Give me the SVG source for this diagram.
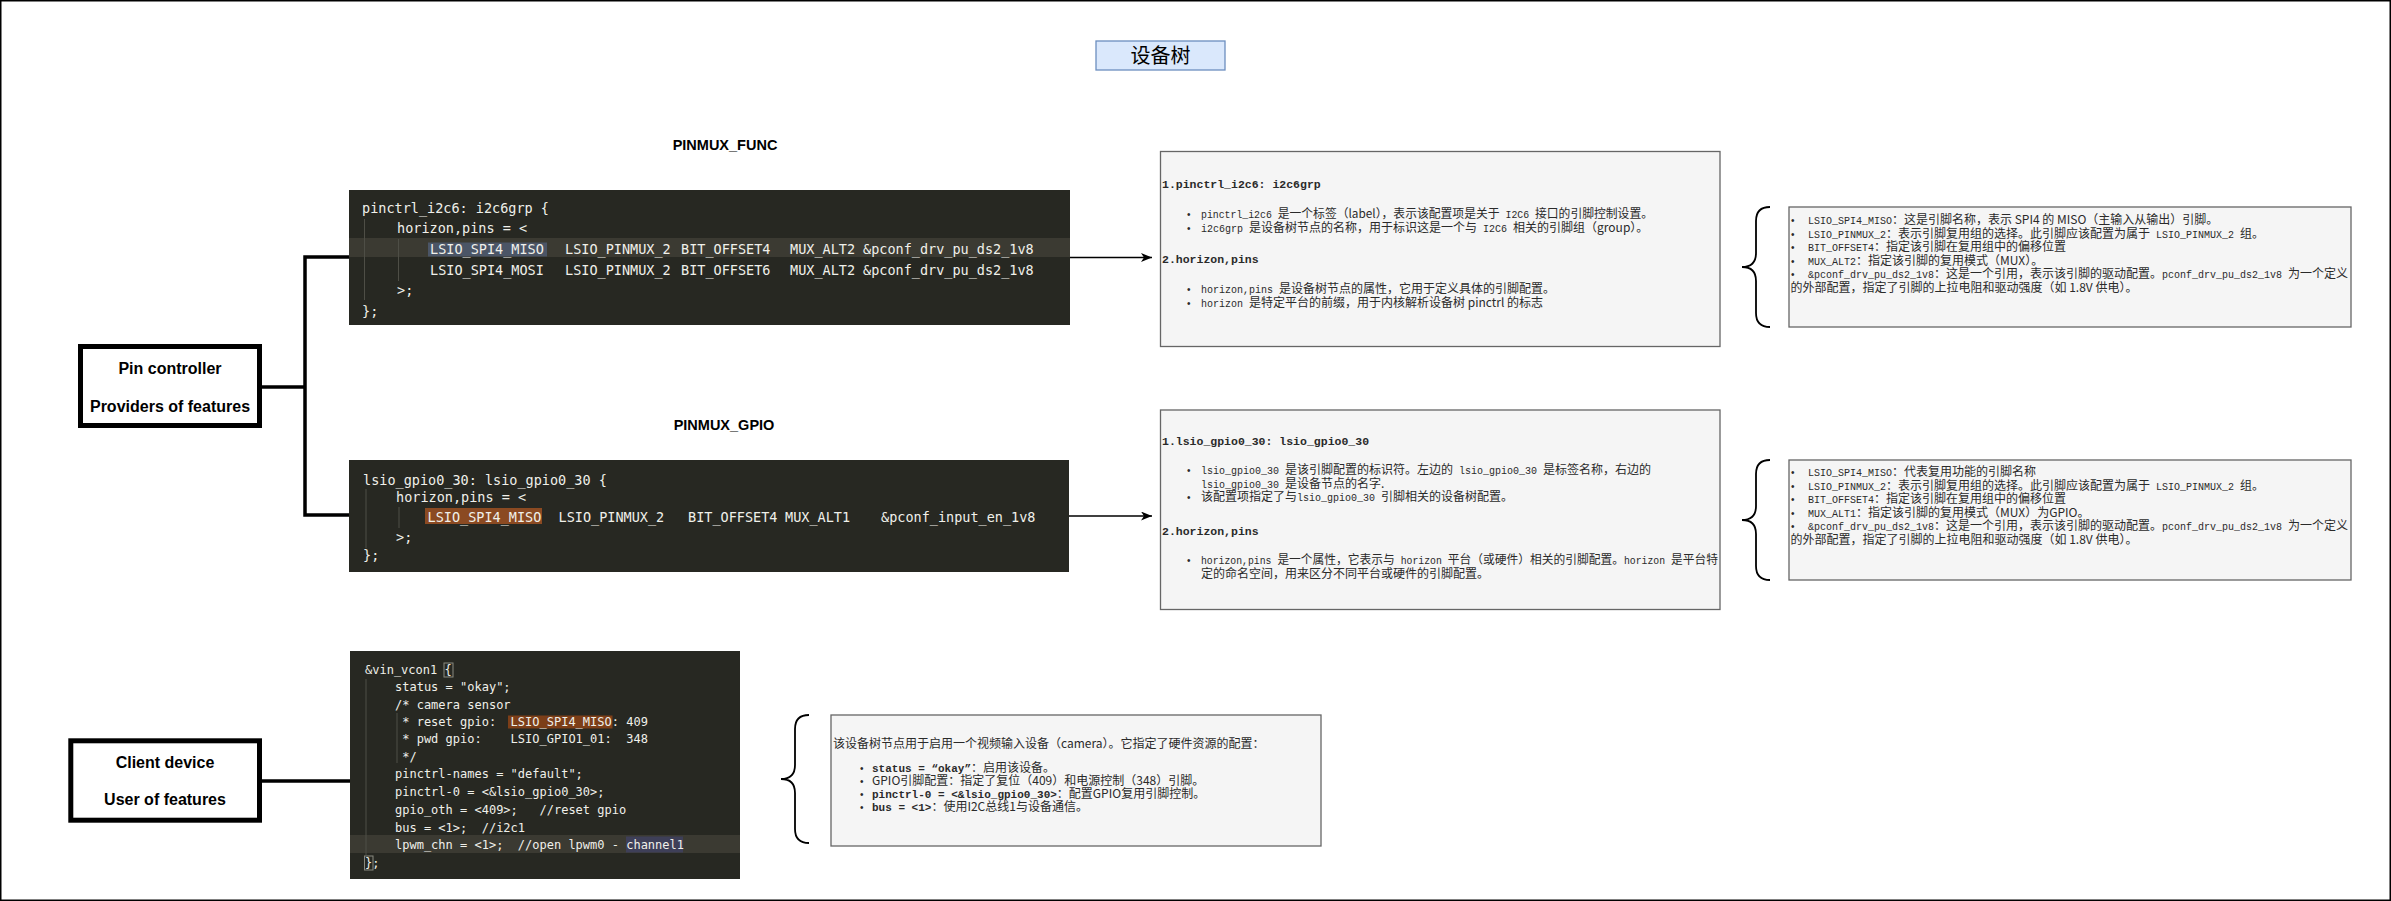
<svg xmlns="http://www.w3.org/2000/svg" width="2391" height="901" viewBox="0 0 2391 901">
<defs>
<style>
.code{font-family:"DejaVu Sans Mono","Liberation Mono",monospace;fill:#f0f0ea;white-space:pre}
.c1{font-size:13.5px}
.c3{font-size:12px}
.blk{fill:#272822}
.band{fill:#3b3a32}
.guide{stroke:#4e4e46;stroke-width:1}
.box{fill:#f5f5f5;stroke:#666666;stroke-width:1.3}
.t{font-family:"Noto Sans CJK SC","Noto Sans",sans-serif;font-size:12px;fill:#2a2a2a;white-space:pre}
.m{font-family:"Liberation Mono",monospace;font-size:10px}
.hd{font-family:"Liberation Mono",monospace;font-size:11.5px;font-weight:bold;fill:#2a2a2a}
.mb3{font-family:"Liberation Mono",monospace;font-size:11px;font-weight:bold}
.bul{font-family:"Liberation Sans",sans-serif;font-size:10px;fill:#2a2a2a}
.node{fill:#ffffff;stroke:#000000;stroke-width:5}
.lbl{font-family:"Liberation Sans",Arial,sans-serif;font-weight:bold;font-size:16px;text-anchor:middle;fill:#000}
.hdr{font-family:"Liberation Sans",Arial,sans-serif;font-weight:bold;font-size:14.5px;text-anchor:middle;fill:#000}
.conn{fill:none;stroke:#000;stroke-width:3.5}
.arrow{fill:none;stroke:#000;stroke-width:1.5;marker-end:url(#ah)}
.brace{fill:none;stroke:#000;stroke-width:1.8}
</style>
<marker id="ah" markerUnits="userSpaceOnUse" markerWidth="12" markerHeight="10" refX="11" refY="4.5" orient="auto">
<path d="M0,0 L11,4.5 L0,9 L3,4.5 z" fill="#000"/>
</marker>
</defs>
<rect x="0.75" y="0.75" width="2389.5" height="899.5" fill="#ffffff" stroke="#000" stroke-width="1.5"/>

<g id="title">
<rect x="1096" y="41" width="129" height="29" fill="#dae8fc" stroke="#6c8ebf" stroke-width="1.3"/>
<text x="1160.5" y="63" font-family="'Noto Sans CJK SC',sans-serif" font-size="20" text-anchor="middle" fill="#000">设备树</text>
</g>

<g id="label-pinmux-func"><text class="hdr" x="725" y="149.5">PINMUX_FUNC</text></g>
<g id="label-pinmux-gpio"><text class="hdr" x="724" y="429.5">PINMUX_GPIO</text></g>

<g id="connectors">
<path class="conn" d="M262 387 H305"/>
<path class="conn" d="M349 257 H305 V515 H349"/>
<path class="conn" d="M262 781 H350"/>
<path class="arrow" d="M1070 257.5 H1152"/>
<path class="arrow" d="M1069 516 H1152"/>
<path class="brace" d="M1770 207 Q1756 207 1756 221 V253 Q1756 267 1742 267 Q1756 267 1756 281 V313 Q1756 327 1770 327"/>
<path class="brace" d="M1770 460 Q1756 460 1756 474 V506 Q1756 520 1742 520 Q1756 520 1756 534 V566 Q1756 580 1770 580"/>
<path class="brace" d="M809 715 Q795 715 795 729 V765 Q795 779 781 779 Q795 779 795 793 V829 Q795 843 809 843"/>
</g>

<g id="pin-controller">
<rect class="node" x="80.5" y="346.5" width="179" height="79"/>
<text class="lbl" x="170" y="374">Pin controller</text>
<text class="lbl" x="170" y="412">Providers of features</text>
</g>

<g id="client-device">
<rect class="node" x="70.8" y="740.8" width="188.7" height="79.4"/>
<text class="lbl" x="165" y="767.5">Client device</text>
<text class="lbl" x="165" y="805">User of features</text>
</g>

<g id="code-pinmux-func">
<rect class="blk" x="349" y="190" width="721" height="135"/>
<rect class="band" x="349" y="238" width="721" height="19"/>
<rect x="428" y="242.5" width="119" height="14" fill="#4b5566"/>
<line class="guide" x1="364.5" y1="219" x2="364.5" y2="300"/>
<line class="guide" x1="398.5" y1="239" x2="398.5" y2="281"/>
<text class="code c1" x="362" y="213">pinctrl_i2c6: i2c6grp {</text>
<text class="code c1" x="397" y="233">horizon,pins = &lt;</text>
<text class="code c1" y="254"><tspan x="430">LSIO_SPI4_MISO</tspan><tspan x="565">LSIO_PINMUX_2</tspan><tspan x="681">BIT_OFFSET4</tspan><tspan x="790">MUX_ALT2</tspan><tspan x="863">&amp;pconf_drv_pu_ds2_1v8</tspan></text>
<text class="code c1" y="275"><tspan x="430">LSIO_SPI4_MOSI</tspan><tspan x="565">LSIO_PINMUX_2</tspan><tspan x="681">BIT_OFFSET6</tspan><tspan x="790">MUX_ALT2</tspan><tspan x="863">&amp;pconf_drv_pu_ds2_1v8</tspan></text>
<text class="code c1" x="397" y="295">&gt;;</text>
<text class="code c1" x="362" y="316">};</text>
</g>

<g id="code-pinmux-gpio">
<rect class="blk" x="349" y="460" width="720" height="112"/>
<rect x="425" y="508" width="117" height="16" fill="#8b4a22"/>
<line class="guide" x1="366" y1="489" x2="366" y2="548"/>
<line class="guide" x1="399" y1="507" x2="399" y2="528"/>
<text class="code c1" x="363" y="485">lsio_gpio0_30: lsio_gpio0_30 {</text>
<text class="code c1" x="396" y="502">horizon,pins = &lt;</text>
<text class="code c1" y="522"><tspan x="427.5">LSIO_SPI4_MISO</tspan><tspan x="558.5">LSIO_PINMUX_2</tspan><tspan x="688">BIT_OFFSET4</tspan><tspan x="785">MUX_ALT1</tspan><tspan x="881">&amp;pconf_input_en_1v8</tspan></text>
<text class="code c1" x="396" y="542">&gt;;</text>
<text class="code c1" x="363" y="560">};</text>
</g>

<g id="code-client">
<rect class="blk" x="350" y="651" width="390" height="228"/>
<rect class="band" x="350" y="835" width="390" height="18"/>
<rect x="508" y="715.5" width="104.5" height="13" fill="#7c3e18"/>
<rect x="626" y="836.5" width="57" height="16" fill="#3e3f58"/>
<rect x="444" y="663" width="9" height="14" fill="none" stroke="#8a8a80" stroke-width="1"/>
<rect x="364.5" y="856" width="8.5" height="14" fill="none" stroke="#8a8a80" stroke-width="1"/>
<line class="guide" x1="366" y1="679" x2="366" y2="855"/>
<line class="guide" x1="397" y1="713" x2="397" y2="763"/>
<text class="code c3" x="365" y="674">&amp;vin_vcon1 {</text>
<text class="code c3" x="395" y="691">status = "okay";</text>
<text class="code c3" x="395" y="709">/* camera sensor</text>
<text class="code c3" x="395" y="726" xml:space="preserve"> * reset gpio:  LSIO_SPI4_MISO: 409</text>
<text class="code c3" x="395" y="743" xml:space="preserve"> * pwd gpio:    LSIO_GPIO1_01:  348</text>
<text class="code c3" x="395" y="761" xml:space="preserve"> */</text>
<text class="code c3" x="395" y="778">pinctrl-names = "default";</text>
<text class="code c3" x="395" y="796">pinctrl-0 = &lt;&amp;lsio_gpio0_30&gt;;</text>
<text class="code c3" x="395" y="814" xml:space="preserve">gpio_oth = &lt;409&gt;;   //reset gpio</text>
<text class="code c3" x="395" y="832" xml:space="preserve">bus = &lt;1&gt;;  //i2c1</text>
<text class="code c3" x="395" y="849" xml:space="preserve">lpwm_chn = &lt;1&gt;;  //open lpwm0 - channel1</text>
<text class="code c3" x="365" y="867">};</text>
</g>

<g id="desc-pinmux-func">
<rect class="box" x="1160.5" y="151.5" width="559.5" height="195"/>
<text class="hd" x="1162" y="188">1.pinctrl_i2c6: i2c6grp</text>
<text class="bul" x="1187" y="218">•</text>
<text class="t" x="1201" y="218" xml:space="preserve" textLength="452" lengthAdjust="spacingAndGlyphs"><tspan class="m">pinctrl_i2c6 </tspan>是一个标签（label），表示该配置项是关于<tspan class="m"> I2C6 </tspan>接口的引脚控制设置。</text>
<text class="bul" x="1187" y="231.5">•</text>
<text class="t" x="1201" y="231.5" xml:space="preserve"><tspan class="m">i2c6grp </tspan>是设备树节点的名称，用于标识这是一个与<tspan class="m"> I2C6 </tspan>相关的引脚组（group）。</text>
<text class="hd" x="1162" y="263">2.horizon,pins</text>
<text class="bul" x="1187" y="293">•</text>
<text class="t" x="1201" y="293" xml:space="preserve"><tspan class="m">horizon,pins </tspan>是设备树节点的属性，它用于定义具体的引脚配置。</text>
<text class="bul" x="1187" y="306.5">•</text>
<text class="t" x="1201" y="306.5" xml:space="preserve"><tspan class="m">horizon </tspan>是特定平台的前缀，用于内核解析设备树 pinctrl 的标志</text>
</g>

<g id="desc-pinmux-gpio">
<rect class="box" x="1160.5" y="410" width="559.5" height="199.5"/>
<text class="hd" x="1162" y="444.5">1.lsio_gpio0_30: lsio_gpio0_30</text>
<text class="bul" x="1187" y="474">•</text>
<text class="t" x="1201" y="474" xml:space="preserve"><tspan class="m">lsio_gpio0_30 </tspan>是该引脚配置的标识符。左边的<tspan class="m"> lsio_gpio0_30 </tspan>是标签名称，右边的</text>
<text class="t" x="1201" y="487.5" xml:space="preserve"><tspan class="m">lsio_gpio0_30 </tspan>是设备节点的名字.</text>
<text class="bul" x="1187" y="501">•</text>
<text class="t" x="1201" y="501" xml:space="preserve">该配置项指定了与<tspan class="m">lsio_gpio0_30 </tspan>引脚相关的设备树配置。</text>
<text class="hd" x="1162" y="534.5">2.horizon,pins</text>
<text class="bul" x="1187" y="564">•</text>
<text class="t" x="1201" y="564" xml:space="preserve" textLength="517" lengthAdjust="spacingAndGlyphs"><tspan class="m">horizon,pins </tspan>是一个属性，它表示与<tspan class="m"> horizon </tspan>平台（或硬件）相关的引脚配置。<tspan class="m">horizon </tspan>是平台特</text>
<text class="t" x="1201" y="577.5">定的命名空间，用来区分不同平台或硬件的引脚配置。</text>
</g>

<g id="detail-pinmux-func">
<rect class="box" x="1789" y="207" width="562" height="120"/>
<text class="bul" x="1791" y="224">•</text>
<text class="t" x="1808" y="224" xml:space="preserve"><tspan class="m">LSIO_SPI4_MISO</tspan>：这是引脚名称，表示 SPI4 的 MISO（主输入从输出）引脚。</text>
<text class="bul" x="1791" y="237.5">•</text>
<text class="t" x="1808" y="237.5" xml:space="preserve"><tspan class="m">LSIO_PINMUX_2</tspan>：表示引脚复用组的选择。此引脚应该配置为属于<tspan class="m"> LSIO_PINMUX_2 </tspan>组。</text>
<text class="bul" x="1791" y="251">•</text>
<text class="t" x="1808" y="251" xml:space="preserve"><tspan class="m">BIT_OFFSET4</tspan>：指定该引脚在复用组中的偏移位置</text>
<text class="bul" x="1791" y="264.5">•</text>
<text class="t" x="1808" y="264.5" xml:space="preserve"><tspan class="m">MUX_ALT2</tspan>：指定该引脚的复用模式（MUX）。</text>
<text class="bul" x="1791" y="278">•</text>
<text class="t" x="1808" y="278" xml:space="preserve"><tspan class="m">&amp;pconf_drv_pu_ds2_1v8</tspan>：这是一个引用，表示该引脚的驱动配置。<tspan class="m">pconf_drv_pu_ds2_1v8 </tspan>为一个定义</text>
<text class="t" x="1790.5" y="291.5">的外部配置，指定了引脚的上拉电阻和驱动强度（如 1.8V 供电）。</text>
</g>

<g id="detail-pinmux-gpio">
<rect class="box" x="1789" y="460" width="562" height="120"/>
<text class="bul" x="1791" y="476">•</text>
<text class="t" x="1808" y="476" xml:space="preserve"><tspan class="m">LSIO_SPI4_MISO</tspan>：代表复用功能的引脚名称</text>
<text class="bul" x="1791" y="489.5">•</text>
<text class="t" x="1808" y="489.5" xml:space="preserve"><tspan class="m">LSIO_PINMUX_2</tspan>：表示引脚复用组的选择。此引脚应该配置为属于<tspan class="m"> LSIO_PINMUX_2 </tspan>组。</text>
<text class="bul" x="1791" y="503">•</text>
<text class="t" x="1808" y="503" xml:space="preserve"><tspan class="m">BIT_OFFSET4</tspan>：指定该引脚在复用组中的偏移位置</text>
<text class="bul" x="1791" y="516.5">•</text>
<text class="t" x="1808" y="516.5" xml:space="preserve"><tspan class="m">MUX_ALT1</tspan>：指定该引脚的复用模式（MUX）为GPIO。</text>
<text class="bul" x="1791" y="530">•</text>
<text class="t" x="1808" y="530" xml:space="preserve"><tspan class="m">&amp;pconf_drv_pu_ds2_1v8</tspan>：这是一个引用，表示该引脚的驱动配置。<tspan class="m">pconf_drv_pu_ds2_1v8 </tspan>为一个定义</text>
<text class="t" x="1790.5" y="543.5">的外部配置，指定了引脚的上拉电阻和驱动强度（如 1.8V 供电）。</text>
</g>

<g id="desc-client">
<rect class="box" x="831" y="715" width="490" height="131"/>
<text class="t" x="833" y="747.5">该设备树节点用于启用一个视频输入设备（camera）。它指定了硬件资源的配置：</text>
<text class="bul" x="860" y="772">•</text>
<text class="t" x="872" y="772" xml:space="preserve"><tspan class="mb3">status = “okay”</tspan>：启用该设备。</text>
<text class="bul" x="860" y="785">•</text>
<text class="t" x="872" y="785">GPIO引脚配置：指定了复位（409）和电源控制（348）引脚。</text>
<text class="bul" x="860" y="798">•</text>
<text class="t" x="872" y="798" xml:space="preserve"><tspan class="mb3">pinctrl-0 = &lt;&amp;lsio_gpio0_30&gt;</tspan>：配置GPIO复用引脚控制。</text>
<text class="bul" x="860" y="811">•</text>
<text class="t" x="872" y="811" xml:space="preserve"><tspan class="mb3">bus = &lt;1&gt;</tspan>：使用I2C总线1与设备通信。</text>
</g>
</svg>
